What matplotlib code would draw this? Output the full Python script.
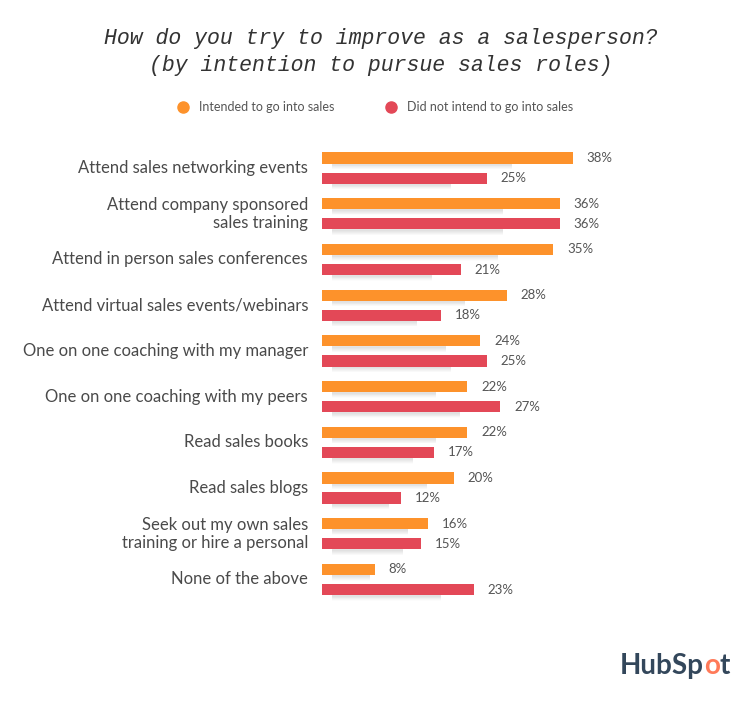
import matplotlib
matplotlib.use("Agg")
import matplotlib.pyplot as plt
from matplotlib.lines import Line2D
import numpy as np

categories = [
    "Attend sales networking events",
    "Attend company sponsored\nsales training",
    "Attend in person sales conferences",
    "Attend virtual sales events/webinars",
    "One on one coaching with my manager",
    "One on one coaching with my peers",
    "Read sales books",
    "Read sales blogs",
    "Seek out my own sales\ntraining or hire a personal",
    "None of the above",
]
intended = [38, 36, 35, 28, 24, 22, 22, 20, 16, 8]
not_intended = [25, 36, 21, 18, 25, 27, 17, 12, 15, 23]
series_names = ["Intended to go into sales", "Did not intend to go into sales"]
title = "How do you try to improve as a salesperson?\n(by intention to pursue sales roles)"

c_orange = "#fd922b"
c_red = "#e34857"
txt = "#4a4a4a"
font = "Lato"

W, H = 750, 701
fig = plt.figure(figsize=(W / 100, H / 100), dpi=100)
fig.patch.set_facecolor("white")

ax_left, ax_right = 322, 690
ax_top, ax_bot = 145.2, 602.3
ax = fig.add_axes([ax_left / W, 1 - ax_bot / H, (ax_right - ax_left) / W, (ax_bot - ax_top) / H])
xmax = (ax_right - ax_left) / 6.6
ax.set_xlim(0, xmax)
ax.set_ylim(9.5, -0.5)
ax.axis("off")

y = np.arange(len(categories))
off = 0.22
bh = 0.245

# soft blurred shadows
for vals, dy in ((intended, -off), (not_intended, off)):
    for k in range(10):
        ax.barh(y + dy + 0.14, [v * 0.72 for v in vals], left=[1.5] * len(vals),
                height=0.03 + k * 0.02, color="#000000", alpha=0.010, zorder=1, linewidth=0)

ax.barh(y - off, intended, height=bh, color=c_orange, zorder=3, linewidth=0)
ax.barh(y + off, not_intended, height=bh, color=c_red, zorder=3, linewidth=0)

for i in range(len(categories)):
    ax.annotate(f"{intended[i]}%", (intended[i], y[i] - off), xytext=(10, 0), textcoords="offset points",
                va="center", ha="left", fontsize=9.5, color="#555555", family=font)
    ax.annotate(f"{not_intended[i]}%", (not_intended[i], y[i] + off), xytext=(10, 0), textcoords="offset points",
                va="center", ha="left", fontsize=9.5, color="#555555", family=font)
    ax.text(-14 / 6.6, y[i], categories[i], ha="right", va="center", fontsize=12, color=txt,
            family=font, linespacing=1.15)

fig.text(381 / W, 1 - 52 / H, title, ha="center", va="center", fontsize=15.5, color="#333333",
         family="Liberation Mono", style="italic", linespacing=1.35)

handles = [Line2D([], [], marker="o", linestyle="none", markersize=8, color=c_orange),
           Line2D([], [], marker="o", linestyle="none", markersize=8, color=c_red)]
leg = fig.legend(handles, series_names, loc="center", bbox_to_anchor=(372 / W, 1 - 107 / H), ncol=2,
                 frameon=False, columnspacing=3.5, handletextpad=0.3,
                 prop={"family": font, "size": 9})
for t in leg.get_texts():
    t.set_color("#555555")

# HubSpot wordmark
navy = "#33475b"
lx, ly = 620 / W, 1 - 666 / H
t1 = fig.text(lx, ly, "HubSp", ha="left", va="center", fontsize=20, fontweight="bold", color=navy, family=font)
fig.canvas.draw()
bb = t1.get_window_extent()
t2 = fig.text(bb.x1 / W, ly, "o", ha="left", va="center", fontsize=20, fontweight="bold", color="#ff7a59", family=font)
fig.canvas.draw()
bb2 = t2.get_window_extent()
fig.text(bb2.x1 / W, ly, "t", ha="left", va="center", fontsize=20, fontweight="bold", color=navy, family=font)

fig.savefig("out.png", dpi=100, facecolor="white")
